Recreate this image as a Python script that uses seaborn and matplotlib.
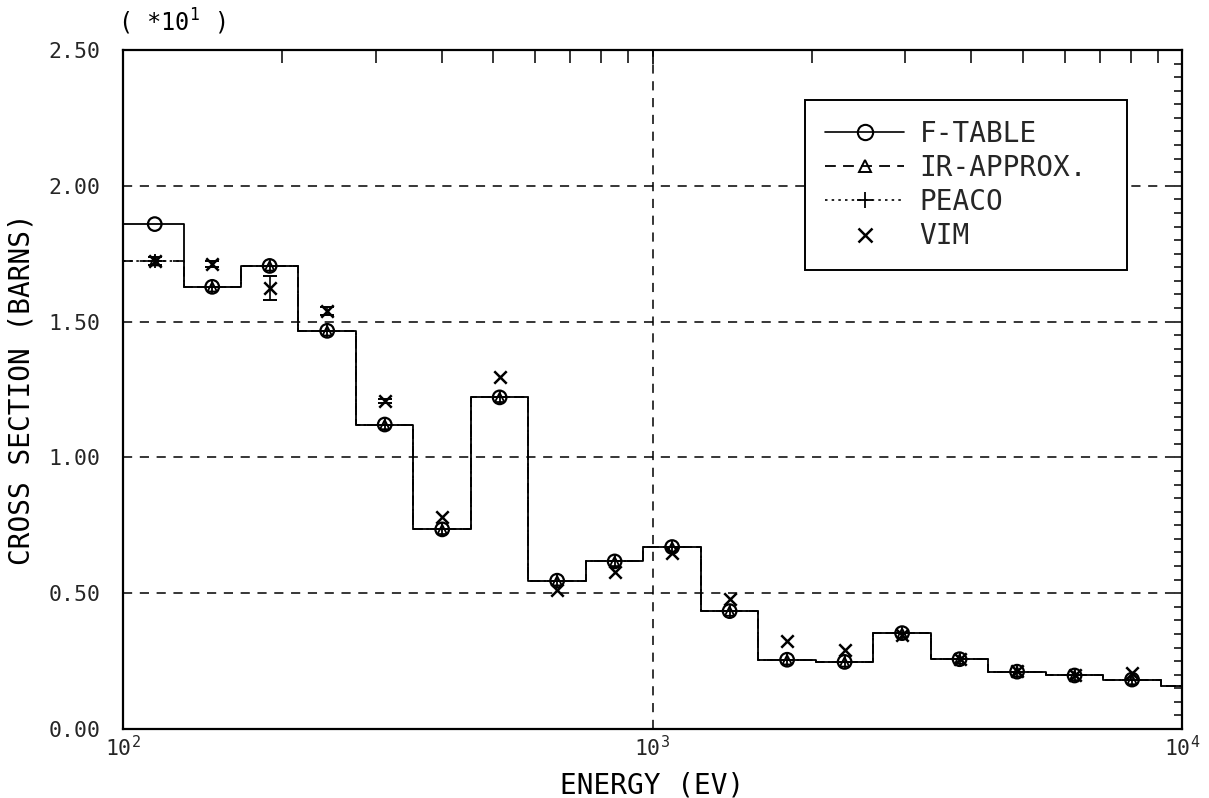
import numpy as np
import pandas as pd
import matplotlib
matplotlib.use("Agg")
import matplotlib.pyplot as plt
from matplotlib.lines import Line2D
from matplotlib.ticker import MultipleLocator, LogLocator, NullFormatter, FormatStrFormatter, LogFormatterMathtext
import seaborn as sns

# ---------------- data (values in units of 10 barns, as on the axis) ----------------
edges = [100.0, 130.1, 167.0, 214.4, 275.4, 353.6, 454.0, 582.9, 748.5, 961.1,
         1234.1, 1584.6, 2034.7, 2612.5, 3354.6, 4307.4, 5530.8, 7101.7, 9118.8, 11709.0]
centers = [114.8, 147.4, 189.2, 243.0, 312.1, 400.7, 514.4, 660.5, 848.2, 1089.1,
           1398.4, 1795.6, 2305.6, 2960.5, 3801.3, 4881.0, 6267.4, 8047.6]
ftable = [1.859, 1.628, 1.705, 1.466, 1.121, 0.735, 1.221, 0.546, 0.617, 0.670,
          0.434, 0.255, 0.247, 0.353, 0.257, 0.211, 0.197, 0.182, 0.160]
ir_approx = [1.724, 1.628, 1.705, 1.466, 1.121, 0.735, 1.221, 0.546, 0.617, 0.670,
             0.434, 0.255, 0.247, 0.353, 0.257, 0.211, 0.197, 0.182, 0.160]
peaco = [1.724, 1.628, 1.705, 1.466, 1.121, 0.735, 1.221, 0.546, 0.617, 0.670,
         0.434, 0.255, 0.247, 0.353, 0.257, 0.211, 0.197, 0.182, 0.160]
vim = [1.723, 1.712, 1.624, 1.539, 1.208, 0.782, 1.295, 0.512, 0.579, 0.648,
       0.479, 0.324, 0.291, 0.345, 0.257, 0.215, 0.197, 0.205]
vim_err = [0.015, 0.010, 0.045, 0.015, 0.008, 0.0, 0.0, 0.0, 0.0, 0.0,
           0.0, 0.0, 0.0, 0.0, 0.0, 0.0, 0.0, 0.0]

y_ticks = [0.0, 0.5, 1.0, 1.5, 2.0, 2.5]

# ---------------- style ----------------
sns.set_theme(style="white")
FONT = ["DejaVu Sans Mono", "DejaVu Sans"]
plt.rcParams["font.family"] = FONT
plt.rcParams["mathtext.fontset"] = "custom"
plt.rcParams["mathtext.rm"] = "DejaVu Sans Mono"
plt.rcParams["mathtext.it"] = "DejaVu Sans Mono"

fig = plt.figure(figsize=(12.09, 7.98), dpi=100)
ax = fig.add_axes([123 / 1209, 1 - 729 / 798, (1182 - 123) / 1209, (729 - 50) / 798])
ax.set_facecolor("white")

def step_df(vals):
    # steps-post needs the last bin value repeated at the final edge
    return pd.DataFrame({"E": edges, "v": list(vals) + [vals[-1]]})

sns.lineplot(data=step_df(ftable), x="E", y="v", ax=ax, estimator=None, sort=False,
             drawstyle="steps-post", color="black", lw=1.3, linestyle="-", zorder=3)
sns.lineplot(data=step_df(ir_approx), x="E", y="v", ax=ax, estimator=None, sort=False,
             drawstyle="steps-post", color="black", lw=1.2, linestyle=(0, (6, 4)), zorder=3)
sns.lineplot(data=step_df(peaco), x="E", y="v", ax=ax, estimator=None, sort=False,
             drawstyle="steps-post", color="black", lw=1.2, linestyle=(0, (1.5, 2.5)), zorder=3)

mk = pd.DataFrame({"E": centers, "f": ftable[:len(centers)], "ir": ir_approx[:len(centers)],
                   "pe": peaco[:len(centers)], "vim": vim})
sns.scatterplot(data=mk, x="E", y="f", ax=ax, marker="o", s=95, facecolor="none",
                edgecolor="black", linewidth=1.6, zorder=4)
sns.scatterplot(data=mk, x="E", y="ir", ax=ax, marker="^", s=45, facecolor="none",
                edgecolor="black", linewidth=1.3, zorder=4)
sns.scatterplot(data=mk, x="E", y="pe", ax=ax, marker="+", s=90, color="black",
                linewidth=1.3, zorder=4)
sns.scatterplot(data=mk, x="E", y="vim", ax=ax, marker="x", s=80, color="black",
                linewidth=1.8, zorder=5)
err_idx = [i for i, e in enumerate(vim_err) if e > 0]
ax.errorbar([centers[i] for i in err_idx], [vim[i] for i in err_idx],
            yerr=[vim_err[i] for i in err_idx], fmt="none", ecolor="black",
            elinewidth=1.2, capsize=5, capthick=1.4, zorder=5)

# ---------------- axes ----------------
ax.set_xscale("log")
ax.set_xlim(100, 10000)
ax.set_ylim(0, 2.5)
ax.set_yticks(y_ticks)
ax.yaxis.set_major_formatter(FormatStrFormatter("%.2f"))
ax.yaxis.set_minor_locator(MultipleLocator(0.05))
ax.xaxis.set_major_locator(LogLocator(base=10, numticks=10))
ax.xaxis.set_major_formatter(LogFormatterMathtext())
ax.xaxis.set_minor_locator(LogLocator(base=10, subs=np.arange(2, 10), numticks=20))
ax.xaxis.set_minor_formatter(NullFormatter())

ax.tick_params(which="both", direction="in", top=True, right=True, color="black")
ax.tick_params(axis="x", which="major", length=10, width=1.2, labelsize=15.5, pad=4)
ax.tick_params(axis="x", which="minor", length=9, width=1.1)
ax.tick_params(axis="y", which="major", length=6, width=1.1, labelsize=15.5, pad=16)
ax.tick_params(axis="y", which="minor", length=6, width=1.1)

for sp in ax.spines.values():
    sp.set_color("black")
    sp.set_linewidth(1.6)

ax.grid(True, which="major", color="black", linestyle=(0, (6, 5)), lw=1.1)
ax.grid(False, which="minor")

ax.set_xlabel("ENERGY (EV)", fontsize=20, color="black")
ax.set_ylabel("CROSS SECTION (BARNS)", fontsize=20, color="black")
ax.xaxis.set_label_coords(0.5, -0.063)
ax.yaxis.set_label_coords(-0.083, 0.5)

fig.text(118 / 1209, 1 - 22 / 798, r"( *10$^{1}$ )", fontsize=17, ha="left", va="center",
         color="black")

handles = [
    Line2D([], [], color="black", lw=1.2, ls="-", marker="o", ms=11, mfc="none", mew=1.5),
    Line2D([], [], color="black", lw=1.3, ls=(0, (6, 4)), marker="^", ms=8, mfc="none", mew=1.4),
    Line2D([], [], color="black", lw=1.2, ls=(0, (1.5, 2.5)), marker="+", ms=11, mew=1.3),
    Line2D([], [], color="black", lw=0, marker="x", ms=10, mew=1.8),
]
labels = ["F-TABLE", "IR-APPROX.", "PEACO", "VIM"]
leg = ax.legend(handles, labels, loc="upper left", mode="expand",
                bbox_to_anchor=((805 - 123) / 1059, (729 - 266) / 679,
                                (1127 - 805) / 1059, (266 - 100) / 679),
                fontsize=20, frameon=True, fancybox=False, handlelength=2.85,
                handletextpad=0.55, labelspacing=0.22, borderpad=0.72, borderaxespad=0)
leg.get_frame().set_edgecolor("black")
leg.get_frame().set_linewidth(1.4)
leg.get_frame().set_facecolor("white")
leg.get_frame().set_alpha(1)
leg.set_zorder(10)

fig.savefig("out.png", dpi=100, facecolor="white")
